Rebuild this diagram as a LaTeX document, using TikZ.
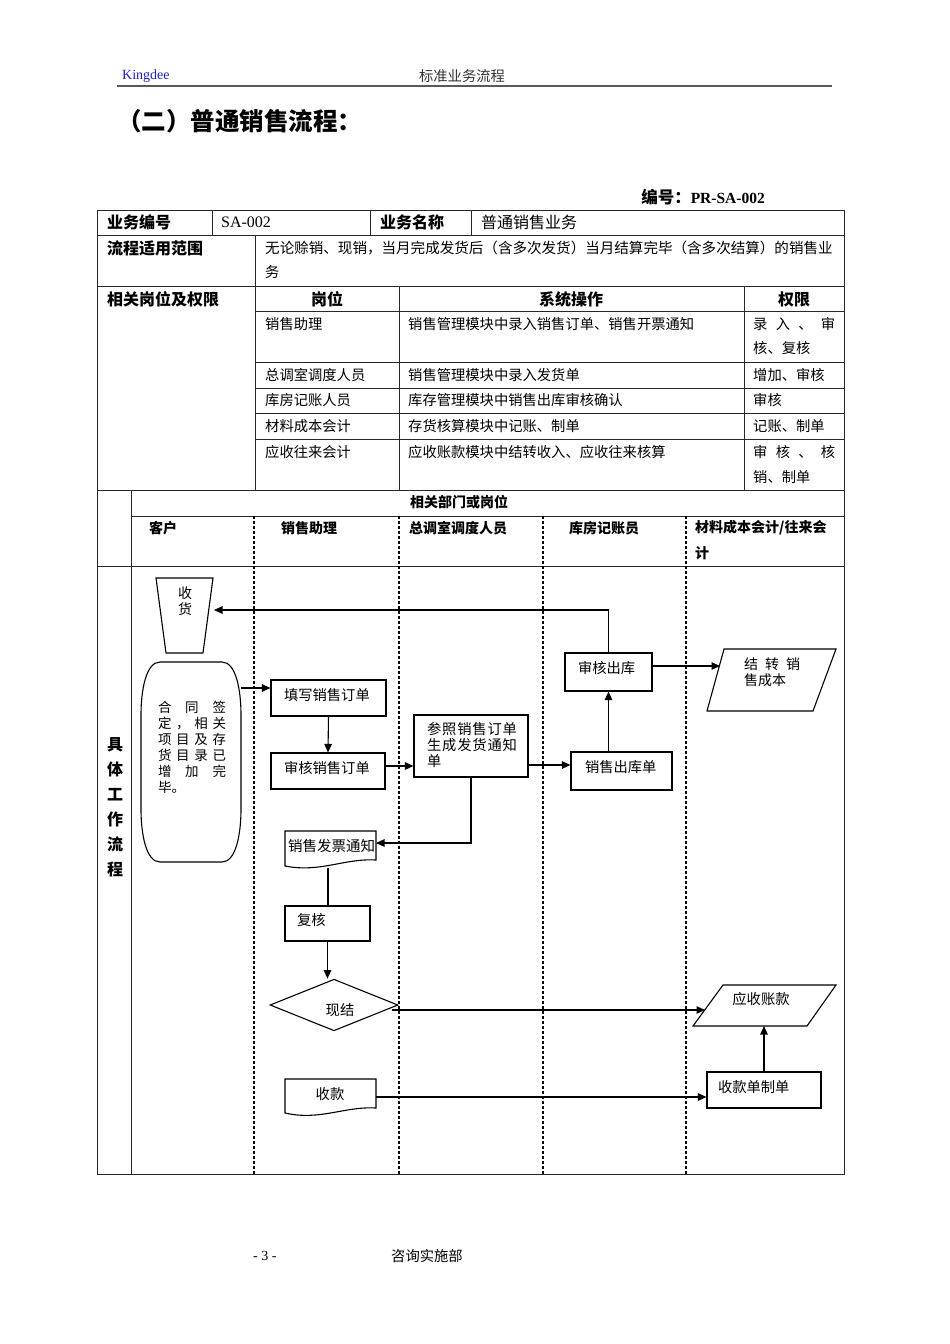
\documentclass[tikz,border=0pt]{standalone}
\usepackage{fontspec}
\setmainfont{Liberation Serif}
\newfontfamily\cjk{Noto Sans CJK SC}
\usetikzlibrary{arrows.meta,shapes.geometric}
\definecolor{kdblue}{RGB}{30,30,200}
\definecolor{lnc}{RGB}{40,40,40}
\begin{document}
\begin{tikzpicture}[x=1pt,y=-1pt,
  tl/.style={line width=0.8pt, draw=lnc},
  fl/.style={line width=1.1pt, draw=black},
  lane/.style={line width=1.1pt, draw=black, dash pattern=on 3pt off 2pt},
  arr/.style={fl, -{Triangle[length=8.5pt,width=7.5pt]}},
  t/.style={inner sep=0, anchor=west, font=\cjk\fontsize{14.3}{16}\selectfont},
  tb/.style={inner sep=0, anchor=west, font=\cjk\bfseries\fontsize{16}{16}\selectfont},
  lb/.style={inner sep=0, anchor=west, font=\cjk\bfseries\fontsize{14}{25}\selectfont},
  box/.style={fl, rectangle, inner ysep=0, align=left, text depth=8pt, font=\cjk\fontsize{14.3}{16}\selectfont},
]
\useasboundingbox (0,0) rectangle (950,1344);
\fill[white] (0,0) rectangle (950,1344);

% page header
\node[inner sep=0, anchor=west, text=kdblue, font=\fontsize{14}{14}\selectfont] (kd) at (122,76) {Kingdee};
\node[t, anchor=center, text=black!80] (hdr) at (462,76) {标准业务流程};
\draw[line width=2pt, black!65] (117,86) -- (832,86);

% title
\node[inner sep=0, anchor=west, font=\cjk\bfseries\fontsize{24.5}{24}\selectfont] (title) at (117,121) {（二）普通销售流程：};
\node[inner sep=0, anchor=east, font=\bfseries\fontsize{15.5}{16}\selectfont] (code) at (765,197) {{\cjk\fontsize{16.5}{16}\selectfont 编号：}PR-SA-002};

% table frame
\draw[tl] (97,210) rectangle (844,1174);
\foreach \y in {235,286,490,566} \draw[tl] (97,\y) -- (844,\y);
\foreach \y in {311,362,388,413,439} \draw[tl] (255,\y) -- (844,\y);
\draw[tl] (131,516) -- (844,516);
\foreach \x in {212,370,471} \draw[tl] (\x,210) -- (\x,235);
\draw[tl] (255,235) -- (255,490);
\draw[tl] (399,286) -- (399,490);
\draw[tl] (744,286) -- (744,490);
\draw[tl] (131,490) -- (131,1174);
\foreach \x in {254,399,543,686} \draw[lane] (\x,516) -- (\x,1174);

% table texts
\node[tb] (c11) at (107,222) {业务编号};
\node[inner sep=0, anchor=west, font=\fontsize{16}{16}\selectfont] (c12) at (221,222) {SA-002};
\node[tb] (c13) at (380,222) {业务名称};
\node[t, font=\cjk\fontsize{16}{16}\selectfont] (c14) at (481,222) {普通销售业务};
\node[tb] (c21) at (107,248) {流程适用范围};
\node[t, font=\cjk\fontsize{14.55}{16}\selectfont] (c22) at (265,248) {无论赊销、现销，当月完成发货后（含多次发货）当月结算完毕（含多次结算）的销售业};
\node[t] (c22b) at (265,272) {务};
\node[tb] (c31) at (107,299) {相关岗位及权限};
\node[tb, anchor=center] (h1) at (327,299) {岗位};
\node[tb, anchor=center] (h2) at (571,299) {系统操作};
\node[tb, anchor=center] (h3) at (794,299) {权限};

\node[t] (r1a) at (265,324) {销售助理};
\node[t] (r1b) at (408,324) {销售管理模块中录入销售订单、销售开票通知};
\node[t] (r1c) at (753,324) {\makebox[82pt][s]{录\hfill 入\hfill 、\hfill 审}};
\node[t] (r1d) at (753,348) {核、复核};
\node[t] (r2a) at (265,375) {总调室调度人员};
\node[t] (r2b) at (408,375) {销售管理模块中录入发货单};
\node[t] (r2c) at (753,375) {增加、审核};
\node[t] (r3a) at (265,400) {库房记账人员};
\node[t] (r3b) at (408,400) {库存管理模块中销售出库审核确认};
\node[t] (r3c) at (753,400) {审核};
\node[t] (r4a) at (265,426) {材料成本会计};
\node[t] (r4b) at (408,426) {存货核算模块中记账、制单};
\node[t] (r4c) at (753,426) {记账、制单};
\node[t] (r5a) at (265,452) {应收往来会计};
\node[t] (r5b) at (408,452) {应收账款模块中结转收入、应收往来核算};
\node[t] (r5c) at (753,452) {\makebox[82pt][s]{审\hfill 核\hfill 、\hfill 核}};
\node[t] (r5d) at (753,477) {销、制单};

% lane headers
\node[lb, anchor=center] (dept) at (459,502) {相关部门或岗位};
\node[lb] (l1) at (149,528) {客户};
\node[lb] (l2) at (281,528) {销售助理};
\node[lb] (l3) at (409,528) {总调室调度人员};
\node[lb] (l4) at (569,528) {库房记账员};
\node[lb] (l5) at (695,528) {材料成本会计/往来会};
\node[lb] (l5b) at (695,553) {计};
\node[inner sep=0, align=center, font=\cjk\bfseries\fontsize{16}{25}\selectfont] (side) at (115,807) {具\\体\\工\\作\\流\\程};

% ---- flowchart ----
% 收货 (manual operation)
\draw[fl] (156,578) -- (213,578) -- (203,653) -- (166,653) -- cycle;
\node[inner sep=0, align=center, font=\cjk\fontsize{14}{16}\selectfont] (sh) at (185,601) {收\\货};
\coordinate (shR) at (214,610);

% contract terminator
\draw[fl] (160,662) -- (222,662) .. controls (236,662) and (241,690) .. (241,715) -- (241,809)
  .. controls (241,834) and (236,862) .. (222,862) -- (160,862)
  .. controls (146,862) and (141,834) .. (141,809) -- (141,715)
  .. controls (141,690) and (146,662) .. (160,662) -- cycle;
\node[inner sep=0, align=left, font=\cjk\fontsize{13.5}{16}\selectfont] (ht) at (192,747)
  {\makebox[68pt][s]{合\hfill 同\hfill 签}\\
   \makebox[68pt][s]{定\hfill ，\hfill 相\hfill 关}\\
   \makebox[68pt][s]{项\hfill 目\hfill 及\hfill 存}\\
   \makebox[68pt][s]{货\hfill 目\hfill 录\hfill 已}\\
   \makebox[68pt][s]{增\hfill 加\hfill 完}\\
   毕。};
\coordinate (htR) at (241,688);

% boxes
\node[box, minimum width=115, minimum height=36, inner xsep=13, text width=89] (tx) at (328.5,698) {填写销售订单};
\node[box, minimum width=114, minimum height=36, inner xsep=13, text width=88] (shd) at (328,771) {审核销售订单};
\node[box, minimum width=114, minimum height=62, inner xsep=13, text width=88, text depth=35pt] (cz) at (471,746)
  {\makebox[90pt][s]{参\hfill 照\hfill 销\hfill 售\hfill 订\hfill 单}\\
   \makebox[90pt][s]{生\hfill 成\hfill 发\hfill 货\hfill 通\hfill 知}\\
   单};
\node[box, minimum width=101, minimum height=38, inner xsep=14, text width=73, text depth=10pt] (ck) at (621.5,771) {销售出库单};
\node[box, minimum width=87, minimum height=38, inner xsep=13, text width=61, text depth=10pt] (shck) at (608.5,672) {审核出库};
\node[box, minimum width=85, minimum height=35, inner xsep=12, text width=61] (fh) at (327.5,923.5) {复核};
\node[box, minimum width=114, minimum height=36, inner xsep=11, text width=92] (skd) at (764,1090) {收款单制单};

% 结转销售成本 (data)
\draw[fl] (724,649) -- (836,649) -- (813,711) -- (707,711) -- cycle;
\node[inner sep=0, anchor=west, align=left, font=\cjk\fontsize{14}{16}\selectfont] (jz) at (744,672)
  {\makebox[56pt][s]{结\hfill 转\hfill 销}\\售成本};
\coordinate (jzL) at (720,666);

% 应收账款 (data)
\draw[fl] (723,985) -- (836,985) -- (807,1026) -- (693,1026) -- cycle;
\node[t, anchor=center] (ys) at (761,999) {应收账款};
\coordinate (ysL) at (705,1010);
\coordinate (ysB) at (764,1026);

% 销售发票通知 (document)
\draw[fl] (285,831) -- (376,831) -- (376,860) .. controls (345,858) and (320,873) .. (285,866) -- cycle;
\node[t, font=\cjk\fontsize{14.5}{16}\selectfont] (fp) at (288,846) {销售发票通知};
\coordinate (fpR) at (376,843);
\coordinate (fpB) at (328,868);

% 收款 (document)
\draw[fl] (285,1079) -- (376,1079) -- (376,1108) .. controls (345,1106) and (320,1121) .. (285,1113) -- cycle;
\node[t, anchor=center] (sk) at (330,1094) {收款};
\coordinate (skR) at (376,1097);

% 现结 (decision)
\node[fl, diamond, minimum width=128, minimum height=50, inner sep=0, font=\cjk\fontsize{14.3}{16}\selectfont] (xj) at (334,1005) {\hspace{12pt}\raisebox{-5pt}[11pt][0pt]{现结}};

% connectors
\draw[arr] (shck.north) |- (shR);
\draw[arr] (htR) -- (htR -| tx.west);
\draw[arr] (tx.south) -- (shd.north);
\draw[arr] ([yshift=5pt]shd.east) -- ([yshift=5pt]shd.east -| cz.west);
\draw[arr] ([yshift=-19pt]cz.east) -- ([yshift=-19pt]cz.east -| ck.west);
\draw[arr] (shck.south |- ck.north) -- (shck.south);
\draw[arr] (jzL -| shck.east) -- (jzL);
\draw[arr] (cz.south) |- (fpR);
\draw[fl] (fpB) -- (fpB |- fh.north);
\draw[arr] (fh.south) -- (fh.south |- xj.north);
\draw[arr] ([xshift=-7pt,yshift=-5pt]xj.east) -- (ysL);
\draw[arr] (skd.north) -- (ysB);
\draw[arr] (skR) -- (skR -| skd.west);

% footer
\node[inner sep=0, anchor=west, font=\fontsize{14}{14}\selectfont] (pg) at (253,1256) {- 3 -};
\node[t] (ft) at (391,1256) {咨询实施部};
\end{tikzpicture}
\end{document}
